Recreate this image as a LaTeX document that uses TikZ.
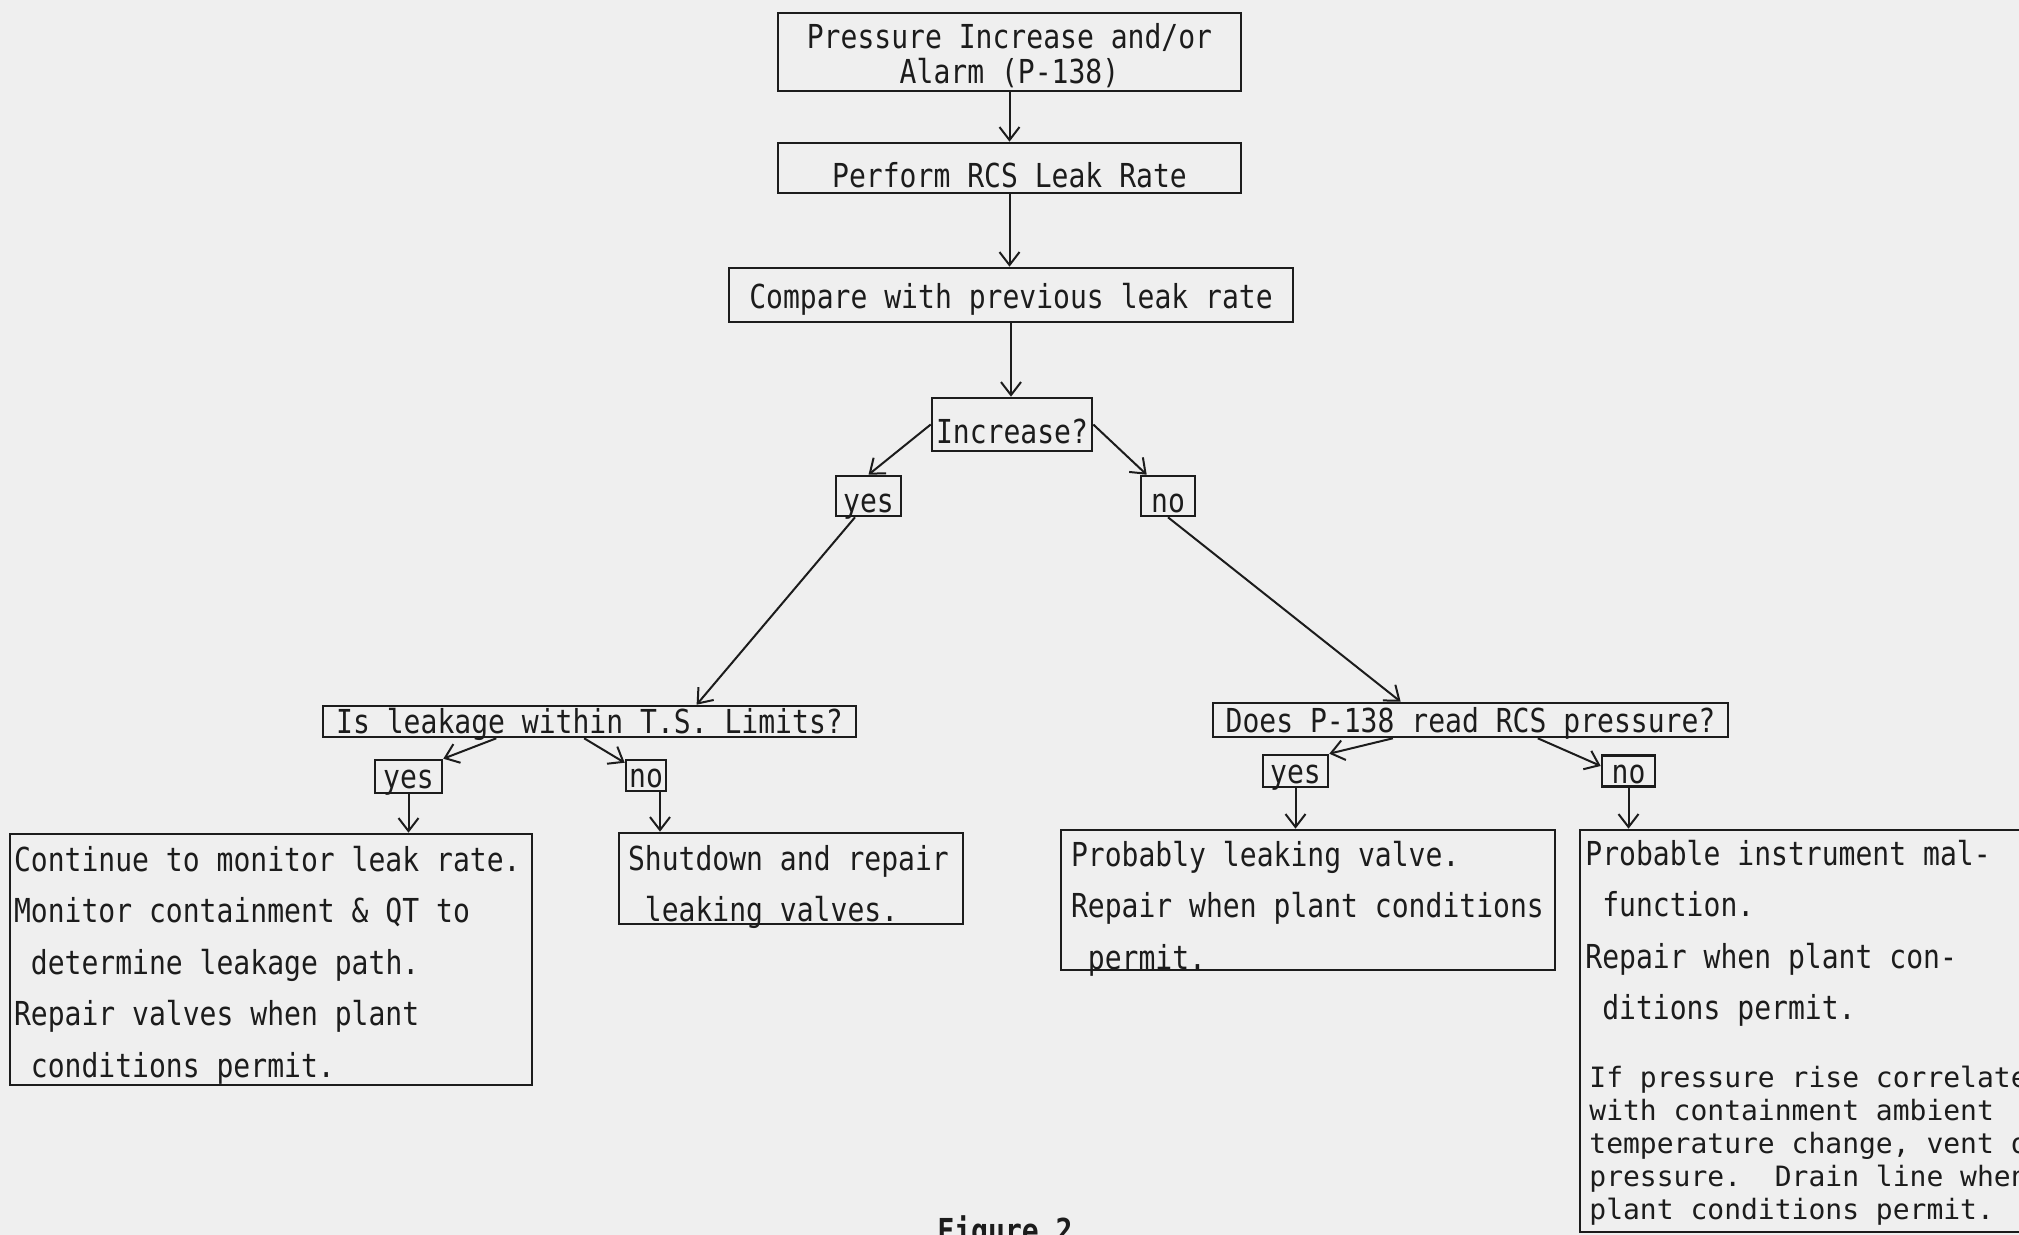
\documentclass[tikz,border=0pt]{standalone}
\usepackage{fontspec}
\usetikzlibrary{arrows.meta,calc}
\newfontfamily\tw[FakeStretch=0.85]{DejaVu Sans Mono}
\newfontfamily\tws{DejaVu Sans Mono}
\definecolor{paper}{RGB}{239,239,239}
\definecolor{ink}{RGB}{28,28,28}
\frenchspacing
\newcommand\fsp{\spaceskip=0pt\xspaceskip=0pt\relax}
\tikzset{
  box/.style={draw=ink, text=ink, line width=1.3pt, rectangle, inner sep=0pt,
              font=\tw\fontsize{16.5}{17.5}\selectfont},
  low/.style={text height=15pt, text depth=1pt},
  lower/.style={text height=20pt, text depth=0.8pt},
  lbl/.style={box, text height=13.5pt, text depth=1.5pt},
  para/.style={box, align=left, font=\tw\fontsize{16.5}{25.75}\selectfont},
  free/.style={text=ink, inner sep=0pt, align=left},
  arr/.style={draw=ink, line width=1pt, -{Straight Barb[length=6.5pt,width=10pt]}},
}
\begin{document}
\begin{tikzpicture}[x=0.5pt,y=-0.5pt]
\useasboundingbox (0,0) rectangle (2019,1235);
\clip (0,0) rectangle (2019,1235);
\fill[paper] (0,0) rectangle (2019,1235);

% top chain
\node[box, align=center, text height=32.5pt, text depth=1.2pt, minimum width=231.5pt, minimum height=39pt] (T) at (1009.5,52) {Pressure Increase and/or\\Alarm (P-138)};
\node[box, lower, minimum width=231.5pt, minimum height=25pt] (P) at (1009.5,168) {Perform RCS Leak Rate};
\node[box, low, minimum width=282pt, minimum height=27pt] (C3) at (1011,295) {Compare with previous leak rate};
\node[box, lower, minimum width=80pt, minimum height=26.5pt] (I) at (1012,424.5) {Increase?};
\node[lbl, text height=16pt, text depth=0pt, minimum width=32.5pt, minimum height=20pt] (Y1) at (868.5,496) {yes};
\node[lbl, text height=16pt, text depth=0pt, minimum width=27pt, minimum height=20pt] (N1) at (1168,496) {no};

% second level
\node[lbl, minimum width=266.5pt, minimum height=15.5pt] (L) at (589.5,721.5) {Is leakage within T.S. Limits?};
\node[lbl, minimum width=257.5pt, minimum height=17pt] (Q) at (1470.5,720) {Does P-138 read RCS pressure?};
\node[lbl, minimum width=33.5pt, minimum height=16.5pt] (Y2) at (408.5,776.5) {yes};
\node[lbl, minimum width=20pt, minimum height=15.5pt] (N2) at (646,775.5) {no};
\node[lbl, minimum width=32.5pt, minimum height=16pt] (Y3) at (1295.5,771) {yes};
\node[lbl, minimum width=26.5pt, minimum height=15.5pt] (N3) at (1628.5,771) {no};

% result boxes
\node[para, inner xsep=2pt, text width=257pt, text height=18.5pt, text depth=107pt, minimum height=125.5pt] (A) at (271,959.5)
  {\fsp Continue to monitor leak rate.\\
   Monitor containment \& QT to\\
   \phantom{x}determine leakage path.\\
   Repair valves when plant\\
   \phantom{x}conditions permit.};
\node[para, inner xsep=4.5pt, text width=163pt, text height=18.5pt, text depth=27pt, minimum height=45.5pt] (B) at (791,878.5)
  {\fsp Shutdown and repair\\
   \phantom{x}leaking valves.};
\node[para, inner xsep=5pt, text width=237pt, text height=18pt, text depth=52pt, minimum height=70pt] (C) at (1308,900)
  {\fsp Probably leaking valve.\\
   Repair when plant conditions\\
   \phantom{x}permit.};
\node[box, minimum width=230pt, minimum height=201pt] (D) at (1810,1031) {};
\node[free, anchor=base west, font=\tw\fontsize{16.5}{25.75}\selectfont] (D1) at (1585,1019.5)
  {\fsp Probable instrument mal-\\
   \phantom{x}function.\\
   Repair when plant con-\\
   \phantom{x}ditions permit.};
\node[free, anchor=base west, font=\tws\fontsize{14}{16.5}\selectfont] (D2) at (1589,1219)
  {\fsp If pressure rise correlates\\
   with containment ambient\\
   temperature change, vent off\\
   pressure.\ \ Drain line when\\
   plant conditions permit.};

\node[free, anchor=base, font=\tw\bfseries\fontsize{16.5}{18}\selectfont] (fig) at (1005,1242) {Figure 2};

% connectors
\draw[arr] (T.south) -- (T.south |- P.north);
\draw[arr] (P.south) -- (P.south |- C3.north);
\draw[arr] (C3.south) -- (C3.south |- I.north);
\draw[arr] (I.west) -- (Y1.north);
\draw[arr] (I.east) -- ([xshift=3.5pt]N1.north west);
\draw[arr] ($(Y1.south west)!0.3!(Y1.south east)$) -- ($(L.north west)!0.7!(L.north east)$);
\draw[arr] (N1.south) -- ($(Q.north west)!0.365!(Q.north east)$);
\draw[arr] ($(L.south west)!0.326!(L.south east)$) -- (Y2.north east);
\draw[arr] ($(L.south west)!0.49!(L.south east)$) -- ($(N2.north west)!0.12!(N2.south west)$);
\draw[arr] ($(Q.south west)!0.35!(Q.south east)$) -- (Y3.north east);
\draw[arr] ($(Q.south west)!0.63!(Q.south east)$) -- ($(N3.north west)!0.35!(N3.south west)$);
\draw[arr] (Y2.south) -- (Y2.south |- A.north);
\draw[arr] ([xshift=7pt]N2.south) -- ([xshift=7pt]N2.south |- B.north);
\draw[arr] (Y3.south) -- (Y3.south |- C.north);
\draw[arr] (N3.south) -- (N3.south |- D.north);
\end{tikzpicture}
\end{document}
